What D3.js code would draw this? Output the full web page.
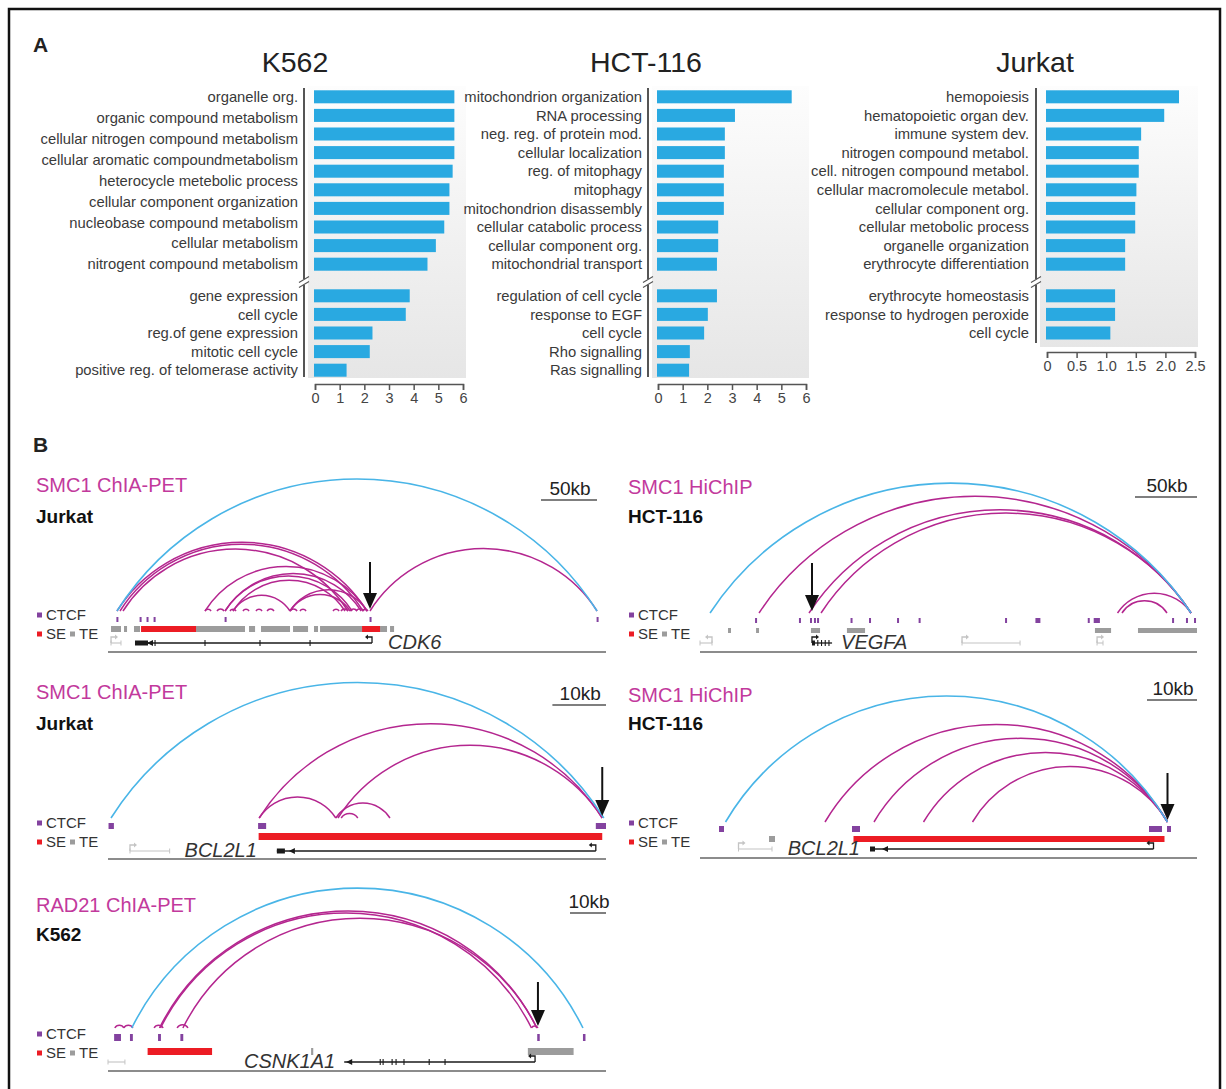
<!DOCTYPE html>
<html>
<head>
<meta charset="utf-8">
<script src="https://cdn.jsdelivr.net/npm/d3@7"></script>
<style>
  body { margin: 0; background: #fff; }
  svg { display: block; }
  text { font-family: "Liberation Sans", Arial, Helvetica, sans-serif; }
</style>
</head>
<body>
<svg id="fig" width="1226" height="1089"></svg>
<script>
// ================= Panel A: GO term enrichment, -log10(P) =================
const k562TermsTop = ["organelle org.", "organic compound metabolism", "cellular nitrogen compound metabolism",
  "cellular aromatic compoundmetabolism", "heterocycle metebolic process", "cellular component organization",
  "nucleobase compound metabolism", "cellular metabolism", "nitrogent compound metabolism"];
const k562ValuesTop = [5.65, 5.65, 5.65, 5.65, 5.58, 5.45, 5.45, 5.24, 4.9, 4.56];
const k562TermsBottom = ["gene expression", "cell cycle", "reg.of gene expression", "mitotic cell cycle",
  "positive reg. of telomerase activity"];
const k562ValuesBottom = [3.84, 3.68, 2.33, 2.22, 1.28];

const hctTermsTop = ["mitochondrion organization", "RNA processing", "neg. reg. of protein mod.",
  "cellular localization", "reg. of mitophagy", "mitophagy", "mitochondrion disassembly",
  "cellular catabolic process", "cellular component org.", "mitochondrial transport"];
const hctValuesTop = [5.42, 3.12, 2.71, 2.71, 2.67, 2.67, 2.67, 2.44, 2.44, 2.39];
const hctTermsBottom = ["regulation of cell cycle", "response to EGF", "cell cycle", "Rho signalling", "Ras signalling"];
const hctValuesBottom = [2.39, 2.02, 1.87, 1.29, 1.26];

const jurkatTermsTop = ["hemopoiesis", "hematopoietic organ dev.", "immune system dev.",
  "nitrogen compound metabol.", "cell. nitrogen compound metabol.", "cellular macromolecule metabol.",
  "cellular component org.", "cellular metobolic process", "organelle organization", "erythrocyte differentiation"];
const jurkatValuesTop = [2.23, 1.98, 1.59, 1.55, 1.55, 1.51, 1.49, 1.49, 1.32, 1.32];
const jurkatTermsBottom = ["erythrocyte homeostasis", "response to hydrogen peroxide", "cell cycle"];
const jurkatValuesBottom = [1.15, 1.15, 1.07];

const ticksSix = [0, 1, 2, 3, 4, 5, 6];
const tickLabelsSix = ["0", "1", "2", "3", "4", "5", "6"];
const ticksJurkat = [0, 0.5, 1, 1.5, 2, 2.5];
const tickLabelsJurkat = ["0", "0.5", "1.0", "1.5", "2.0", "2.5"];

// ================= Panel B: cohesin loops (positions in kb from window start) =================
// CDK6 - SMC1 ChIA-PET, Jurkat
const cdk6Window = 444.6;
const cdk6Ctcf = [[7.5, 8.5], [28.2, 29.0], [34.4, 35.2], [40.7, 41.5], [104.1, 104.9], [233.5, 234.3], [436.2, 437.0]];
const cdk6SE = [[29.5, 78.6], [226.8, 242.9]];
const cdk6TE = [[2.7, 11.6], [14.3, 17.0], [23.2, 28.6], [78.6, 122.3], [125.9, 131.3], [136.6, 162.5],
  [165.2, 178.6], [183.9, 187.5], [189.3, 226.8], [242.9, 249.1], [251.8, 255.4]];
const cdk6Neighborhood = [[8.0, 436.6]];
const cdk6Loops = [[8.0, 231.3], [10.7, 227.7], [13.4, 214.3], [86.6, 231.3], [104.5, 226.0], [104.5, 217.9],
  [111.6, 211.6], [111.6, 162.5], [162.5, 231.3], [162.5, 216.1], [233.9, 436.6],
  [86.6, 92.0], [97.3, 103.6], [108.9, 114.3], [120.5, 125.9], [132.1, 137.5], [142.0, 148.2],
  [162.5, 168.8], [171.4, 176.8], [200.9, 206.3], [208.0, 214.3], [216.1, 222.3], [221.4, 228.6], [226.8, 232.1]];
const cdk6Genes = [
  { start: 24.1, end: 235.7, tss: "end", blocks: [[24.1, 35.7]], exons: [42.0, 86.6, 135.7, 180.4], main: true },
  { start: 2.7, end: 11.6, tss: "start", blocks: [], exons: [], main: false }
];
const cdk6Anchor = 233.9;

// VEGFA - SMC1 HiChIP, HCT-116
const vegfaWindow = 400.8;
const vegfaCtcf = [[44.4, 46.0], [79.8, 81.4], [88.7, 90.3], [91.9, 93.5], [94.4, 96.0], [121.4, 123.0],
  [136.3, 137.9], [158.9, 160.5], [176.3, 177.9], [246.0, 247.6], [270.5, 274.5], [312.7, 314.3],
  [317.5, 322.5], [380.7, 382.3], [391.9, 393.5], [398.4, 400.0]];
const vegfaSE = [];
const vegfaTE = [[22.6, 25.0], [45.2, 47.6], [89.5, 96.8], [118.5, 133.1], [318.5, 331.5], [353.2, 400.8]];
const vegfaNeighborhood = [[8.1, 396.0]];
const vegfaLoops = [[47.6, 396.0], [87.9, 396.0], [97.6, 396.0], [336.7, 396.0], [340.3, 376.6]];
const vegfaGenes = [
  { start: 90.3, end: 106.5, tss: "start", blocks: [[90.3, 91.5]], exons: [95, 98, 101, 104], main: true },
  { start: 0, end: 9.7, tss: "end", blocks: [], exons: [], main: false },
  { start: 211.3, end: 258.1, tss: "start", blocks: [], exons: [], main: false },
  { start: 320.2, end: 325.0, tss: "start", blocks: [], exons: [], main: false }
];
const vegfaAnchor = 90.3;

// BCL2L1 - SMC1 ChIA-PET, Jurkat
const bclJurkatWindow = 92.9;
const bclJurkatCtcf = [[0.1, 1.1], [28.0, 29.5], [91.0, 92.9]];
const bclJurkatSE = [[28.1, 92.2]];
const bclJurkatTE = [];
const bclJurkatNeighborhood = [[0.56, 92.5]];
const bclJurkatLoops = [[28.2, 92.2], [42.9, 92.2], [28.2, 42.5], [42.5, 52.6], [43.5, 46.6]];
const bclJurkatGenes = [
  { start: 31.5, end: 91.0, tss: "end", blocks: [[31.5, 33.0]], exons: [], main: true },
  { start: 4.1, end: 11.5, tss: "start", blocks: [], exons: [], main: false }
];
const bclJurkatAnchor = 92.2;

// BCL2L1 - SMC1 HiChIP, HCT-116
const bclHctWindow = 99.4;
const bclHctCtcf = [[3.8, 4.8], [30.4, 32.0], [89.8, 92.4], [93.4, 94.2]];
const bclHctSE = [[30.7, 92.9]];
const bclHctTE = [[13.8, 15.0]];
const bclHctNeighborhood = [[5.1, 93.5]];
const bclHctLoops = [[25.0, 93.5], [34.8, 93.5], [44.7, 93.5], [54.5, 93.5]];
const bclHctGenes = [
  { start: 34.0, end: 90.7, tss: "end", blocks: [[34.0, 35.0]], exons: [], main: true },
  { start: 7.7, end: 14.4, tss: "start", blocks: [], exons: [], main: false }
];
const bclHctAnchor = 93.5;

// CSNK1A1 - RAD21 ChIA-PET, K562
const csnkWindow = 138.3;
const csnkCtcf = [[1.7, 3.6], [6.1, 6.9], [13.9, 14.7], [20.1, 20.9], [119.2, 119.9], [131.9, 132.6]];
const csnkSE = [[11.0, 28.9]];
const csnkTE = [[56.4, 57.0], [116.6, 129.3]];
const csnkNeighborhood = [[6.6, 131.9]];
const csnkLoops = [[14.3, 119.1], [14.6, 117.6], [20.8, 119.1],
  [1.9, 4.4], [4.4, 6.9], [12.8, 15.3], [19.2, 22.2], [117.6, 119.4]];
const csnkGenes = [
  { start: 65.6, end: 118.6, tss: "end", blocks: [], exons: [75.6, 76.4, 78.9, 80.0, 82.2, 89.2, 93.6], main: true },
  { start: 0, end: 4.7, tss: "none", blocks: [], exons: [], main: false }
];
const csnkAnchor = 119.4;

// ================= Drawing =================
const svg = d3.select("#fig");
const BAR = "#29a9e1";
const MAGENTA = "#b4268f";
const BLUE = "#49b5e7";
const PURPLE = "#83429f";
const RED = "#ec1c24";
const GREY = "#9c9c9c";

// figure frame
svg.append("rect").attr("x", 9).attr("y", 9).attr("width", 1211).attr("height", 1100)
  .attr("fill", "none").attr("stroke", "#111").attr("stroke-width", 2.5);

svg.append("text").text("A").attr("x", 33).attr("y", 52)
  .attr("font-size", 21).attr("font-weight", "bold").attr("fill", "#222");
svg.append("text").text("B").attr("x", 33).attr("y", 452)
  .attr("font-size", 21).attr("font-weight", "bold").attr("fill", "#222");

const defs = svg.append("defs");
const grad = defs.append("linearGradient").attr("id", "plotBg")
  .attr("x1", 0).attr("y1", 0).attr("x2", 0).attr("y2", 1);
grad.append("stop").attr("offset", "0%").attr("stop-color", "#fdfdfd");
grad.append("stop").attr("offset", "100%").attr("stop-color", "#e6e6e6");

const goCharts = [
  { title: "K562", termsTop: k562TermsTop, valuesTop: k562ValuesTop, termsBottom: k562TermsBottom,
    valuesBottom: k562ValuesBottom, ticks: ticksSix, tickLabels: tickLabelsSix, xMax: 6 },
  { title: "HCT-116", termsTop: hctTermsTop, valuesTop: hctValuesTop, termsBottom: hctTermsBottom,
    valuesBottom: hctValuesBottom, ticks: ticksSix, tickLabels: tickLabelsSix, xMax: 6 },
  { title: "Jurkat", termsTop: jurkatTermsTop, valuesTop: jurkatValuesTop, termsBottom: jurkatTermsBottom,
    valuesBottom: jurkatValuesBottom, ticks: ticksJurkat, tickLabels: tickLabelsJurkat, xMax: 2.5 }
];
const goLayout = [
  { axisX: 304, zeroX: 315, endX: 463, labelX: 298, titleX: 295, bgBottom: 378, axisBottom: 377, xAxisY: 384 },
  { axisX: 648, zeroX: 658, endX: 806, labelX: 642, titleX: 646, bgBottom: 378, axisBottom: 377, xAxisY: 384 },
  { axisX: 1036, zeroX: 1047, endX: 1195, labelX: 1029, titleX: 1035, bgBottom: 347, axisBottom: 343, xAxisY: 352 }
];
const STEP = 18.6, TOP0 = 87.5, BOT0 = 286.5;

goCharts.forEach((c, i) => {
  const L = goLayout[i];
  const g = svg.append("g");
  const x = d3.scaleLinear().domain([0, c.xMax]).range([L.zeroX, L.endX]);
  const yTop = d3.scaleBand().domain(d3.range(c.valuesTop.length))
    .range([TOP0, TOP0 + STEP * c.valuesTop.length]).paddingInner(0.3).paddingOuter(0.15);
  const yBot = d3.scaleBand().domain(d3.range(c.valuesBottom.length))
    .range([BOT0, BOT0 + STEP * c.valuesBottom.length]).paddingInner(0.3).paddingOuter(0.15);

  // shaded plotting area
  g.append("rect").attr("x", L.axisX + 4).attr("y", 86)
    .attr("width", L.endX + 3 - (L.axisX + 4)).attr("height", L.bgBottom - 86)
    .attr("fill", "url(#plotBg)");

  g.append("text").text(c.title).attr("x", L.titleX).attr("y", 72)
    .attr("text-anchor", "middle").attr("font-size", 28.5).attr("fill", "#222");

  // bars
  g.selectAll(".bt").data(c.valuesTop).join("rect")
    .attr("x", x(0) - 1).attr("y", (d, j) => yTop(j))
    .attr("width", d => x(d) - x(0) + 1).attr("height", yTop.bandwidth()).attr("fill", BAR);
  g.selectAll(".bb").data(c.valuesBottom).join("rect")
    .attr("x", x(0) - 1).attr("y", (d, j) => yBot(j))
    .attr("width", d => x(d) - x(0) + 1).attr("height", yBot.bandwidth()).attr("fill", BAR);

  // category labels
  const firstC = yTop(0) + yTop.bandwidth() / 2;
  const lastC = yTop(c.valuesTop.length - 1) + yTop.bandwidth() / 2;
  const labTop = d3.scalePoint().domain(c.termsTop).range([firstC, lastC]);
  g.selectAll(".lt").data(c.termsTop).join("text")
    .attr("x", L.labelX).attr("y", d => labTop(d)).attr("dy", "0.35em")
    .attr("text-anchor", "end").attr("font-size", 14.8).attr("fill", "#3a3a3a").text(d => d);
  g.selectAll(".lb").data(c.termsBottom).join("text")
    .attr("x", L.labelX).attr("y", (d, j) => yBot(j) + yBot.bandwidth() / 2).attr("dy", "0.35em")
    .attr("text-anchor", "end").attr("font-size", 14.8).attr("fill", "#3a3a3a").text(d => d);

  // vertical axis with a break between the two groups of terms
  const breakY = (lastC + yBot(0) + yBot.bandwidth() / 2) / 2 + 2;
  g.append("line").attr("x1", L.axisX).attr("x2", L.axisX).attr("y1", 88).attr("y2", breakY - 3)
    .attr("stroke", "#555").attr("stroke-width", 2);
  g.append("line").attr("x1", L.axisX).attr("x2", L.axisX).attr("y1", breakY + 3).attr("y2", L.axisBottom)
    .attr("stroke", "#555").attr("stroke-width", 2);
  [-2.5, 2.5].forEach(o => g.append("line")
    .attr("x1", L.axisX - 5).attr("y1", breakY + o + 3).attr("x2", L.axisX + 5).attr("y2", breakY + o - 3)
    .attr("stroke", "#555").attr("stroke-width", 1.1));

  // value axis
  const ax = g.append("g").attr("transform", `translate(0,${L.xAxisY})`)
    .call(d3.axisBottom(x).tickValues(c.ticks).tickFormat((d, j) => c.tickLabels[j]).tickSize(6).tickSizeOuter(6));
  ax.selectAll("path, line").attr("stroke", "#555").attr("stroke-width", 1.5);
  ax.selectAll("text").attr("font-size", 14.5).attr("fill", "#444")
    .attr("font-family", '"Liberation Sans", Arial, sans-serif');
});

// ----- Panel B tracks -----
const tracks = [
  { assay: "SMC1 ChIA-PET", cell: "Jurkat", gene: "CDK6", scaleKb: 50, window: cdk6Window, ctcf: cdk6Ctcf,
    se: cdk6SE, te: cdk6TE, neighborhood: cdk6Neighborhood, loops: cdk6Loops, genes: cdk6Genes, anchor: cdk6Anchor },
  { assay: "SMC1 HiChIP", cell: "HCT-116", gene: "VEGFA", scaleKb: 50, window: vegfaWindow, ctcf: vegfaCtcf,
    se: vegfaSE, te: vegfaTE, neighborhood: vegfaNeighborhood, loops: vegfaLoops, genes: vegfaGenes, anchor: vegfaAnchor },
  { assay: "SMC1 ChIA-PET", cell: "Jurkat", gene: "BCL2L1", scaleKb: 10, window: bclJurkatWindow, ctcf: bclJurkatCtcf,
    se: bclJurkatSE, te: bclJurkatTE, neighborhood: bclJurkatNeighborhood, loops: bclJurkatLoops, genes: bclJurkatGenes, anchor: bclJurkatAnchor },
  { assay: "SMC1 HiChIP", cell: "HCT-116", gene: "BCL2L1", scaleKb: 10, window: bclHctWindow, ctcf: bclHctCtcf,
    se: bclHctSE, te: bclHctTE, neighborhood: bclHctNeighborhood, loops: bclHctLoops, genes: bclHctGenes, anchor: bclHctAnchor },
  { assay: "RAD21 ChIA-PET", cell: "K562", gene: "CSNK1A1", scaleKb: 10, window: csnkWindow, ctcf: csnkCtcf,
    se: csnkSE, te: csnkTE, neighborhood: csnkNeighborhood, loops: csnkLoops, genes: csnkGenes, anchor: csnkAnchor }
];
const trackLayout = [
  { x0: 108, x1: 606, labelX: 36, assayY: 492, cellY: 523, scaleRight: 597, scaleY: 500, arcY: 611, ctcfY: 617, ctcfH: 5,
    bandY: 626, bandH: 6, geneY: 643, axisY: 652, arrowTop: 562, legendY: 615, ratio: 0.275, geneLabel: "right", geneGap: 16 },
  { x0: 700, x1: 1197, labelX: 628, assayY: 494, cellY: 523, scaleRight: 1197, scaleY: 497, arcY: 613, ctcfY: 618, ctcfH: 5,
    bandY: 628, bandH: 5, geneY: 643, axisY: 652, arrowTop: 563, legendY: 615, ratio: 0.27, geneLabel: "right", geneGap: 9 },
  { x0: 108, x1: 606, labelX: 36, assayY: 699, cellY: 730, scaleRight: 606, scaleY: 705, arcY: 818, ctcfY: 823, ctcfH: 6,
    bandY: 833, bandH: 7, geneY: 851, axisY: 859, arrowTop: 767, legendY: 823, ratio: 0.275, geneLabel: "left", geneGap: 20 },
  { x0: 700, x1: 1197, labelX: 628, assayY: 702, cellY: 730, scaleRight: 1197, scaleY: 700, arcY: 822, ctcfY: 826, ctcfH: 6,
    bandY: 836, bandH: 6, geneY: 849, axisY: 858, arrowTop: 773, legendY: 823, ratio: 0.285, geneLabel: "left", geneGap: 10 },
  { x0: 108, x1: 606, labelX: 36, assayY: 912, cellY: 941, scaleRight: 606, scaleY: 913, arcY: 1028, ctcfY: 1034, ctcfH: 7,
    bandY: 1048, bandH: 7, geneY: 1062, axisY: 1071, arrowTop: 982, legendY: 1034, ratio: 0.31, geneLabel: "left", geneGap: 9 }
];

function arcPath(x, a, b, base, ratio) {
  const x1 = x(a), x2 = x(b);
  const s = x2 - x1, h = Math.max(1.2, ratio * s);
  const r = (s * s / 4 + h * h) / (2 * h);
  return `M${x1},${base} A${r},${r} 0 0 1 ${x2},${base}`;
}

function drawGene(g, x, gene, y) {
  const col = gene.main ? "#1a1a1a" : "#c4c4c4";
  const xs = x(gene.start), xe = x(gene.end);
  g.append("line").attr("x1", xs).attr("x2", xe).attr("y1", y).attr("y2", y)
    .attr("stroke", col).attr("stroke-width", gene.main ? 1.3 : 1.1);
  gene.blocks.forEach(b => g.append("rect").attr("x", x(b[0])).attr("y", y - 2.5)
    .attr("width", Math.max(3, x(b[1]) - x(b[0]))).attr("height", 5).attr("fill", col));
  gene.exons.forEach(e => g.append("line").attr("x1", x(e)).attr("x2", x(e))
    .attr("y1", y - 3).attr("y2", y + 3).attr("stroke", col).attr("stroke-width", 1.1));
  if (!gene.main) {
    [xs, xe].forEach(p => g.append("line").attr("x1", p).attr("x2", p).attr("y1", y - 2.5).attr("y2", y + 2.5)
      .attr("stroke", col).attr("stroke-width", 1));
  }
  if (gene.tss === "none") return;
  // transcription start: bent arrow
  const tx = gene.tss === "end" ? xe : xs;
  const dir = gene.tss === "end" ? -1 : 1;
  g.append("path").attr("d", `M${tx},${y} V${y - 6} H${tx + dir * 5}`)
    .attr("fill", "none").attr("stroke", col).attr("stroke-width", 1.3);
  g.append("path").attr("d", `M${tx + dir * 7},${y - 6} L${tx + dir * 4},${y - 8.5} L${tx + dir * 4},${y - 3.5} Z`)
    .attr("fill", col);
  // strand chevron at the far end of the gene body
  if (gene.main && gene.tss === "end") {
    const cx = xs + (gene.blocks.length ? 12 : 2);
    g.append("path").attr("d", `M${cx},${y} L${cx + 6},${y - 3} L${cx + 6},${y + 3} Z`).attr("fill", col);
  }
}

tracks.forEach((t, i) => {
  const L = trackLayout[i];
  const x = d3.scaleLinear().domain([0, t.window]).range([L.x0, L.x1]);
  const g = svg.append("g");

  g.append("text").text(t.assay).attr("x", L.labelX).attr("y", L.assayY)
    .attr("font-size", 20).attr("fill", "#c2399c");
  g.append("text").text(t.cell).attr("x", L.labelX).attr("y", L.cellY)
    .attr("font-size", 19).attr("font-weight", "bold").attr("fill", "#111");

  // scale bar
  const sbW = x(t.scaleKb) - x(0);
  g.append("line").attr("x1", L.scaleRight - sbW).attr("x2", L.scaleRight)
    .attr("y1", L.scaleY).attr("y2", L.scaleY).attr("stroke", "#555").attr("stroke-width", 1.5);
  g.append("text").text(t.scaleKb + "kb").attr("x", L.scaleRight - sbW / 2 + 1).attr("y", L.scaleY - 5)
    .attr("text-anchor", "middle").attr("font-size", 19).attr("fill", "#222");

  // legend
  g.append("rect").attr("x", L.labelX + 1).attr("y", L.legendY - 2.5).attr("width", 5).attr("height", 5).attr("fill", PURPLE);
  g.append("text").text("CTCF").attr("x", L.labelX + 10).attr("y", L.legendY).attr("dy", "0.35em")
    .attr("font-size", 15).attr("fill", "#333");
  const ly = L.legendY + 19;
  g.append("rect").attr("x", L.labelX + 1).attr("y", ly - 2.5).attr("width", 5).attr("height", 5).attr("fill", RED);
  g.append("text").text("SE").attr("x", L.labelX + 10).attr("y", ly).attr("dy", "0.35em")
    .attr("font-size", 15).attr("fill", "#333");
  g.append("rect").attr("x", L.labelX + 34).attr("y", ly - 2.5).attr("width", 5).attr("height", 5).attr("fill", GREY);
  g.append("text").text("TE").attr("x", L.labelX + 43).attr("y", ly).attr("dy", "0.35em")
    .attr("font-size", 15).attr("fill", "#333");

  // genome axis
  g.append("line").attr("x1", L.x0).attr("x2", L.x1).attr("y1", L.axisY).attr("y2", L.axisY)
    .attr("stroke", "#666").attr("stroke-width", 1.6);

  // CTCF sites
  g.selectAll(".ctcf").data(t.ctcf).join("rect")
    .attr("x", d => x(d[0])).attr("y", L.ctcfY)
    .attr("width", d => Math.max(2, x(d[1]) - x(d[0]))).attr("height", L.ctcfH).attr("fill", PURPLE);

  // enhancers
  g.selectAll(".te").data(t.te).join("rect")
    .attr("x", d => x(d[0])).attr("y", L.bandY)
    .attr("width", d => Math.max(2, x(d[1]) - x(d[0]))).attr("height", L.bandH).attr("fill", GREY);
  g.selectAll(".se").data(t.se).join("rect")
    .attr("x", d => x(d[0])).attr("y", L.bandY)
    .attr("width", d => x(d[1]) - x(d[0])).attr("height", L.bandH).attr("fill", RED);

  // genes
  t.genes.forEach(gn => drawGene(g, x, gn, L.geneY));
  const main = t.genes.find(gn => gn.main);
  const lab = g.append("text").text(t.gene).attr("font-size", 20).attr("font-style", "italic")
    .attr("fill", "#333").attr("y", L.geneY + 6);
  if (L.geneLabel === "right") lab.attr("x", x(main.end) + L.geneGap);
  else lab.attr("x", x(main.start) - L.geneGap).attr("text-anchor", "end");

  // loops
  g.selectAll(".loop").data(t.loops).join("path")
    .attr("d", d => arcPath(x, d[0], d[1], L.arcY, L.ratio))
    .attr("fill", "none").attr("stroke", MAGENTA).attr("stroke-width", 1.5);
  g.selectAll(".nb").data(t.neighborhood).join("path")
    .attr("d", d => arcPath(x, d[0], d[1], L.arcY, L.ratio))
    .attr("fill", "none").attr("stroke", BLUE).attr("stroke-width", 1.6);

  // anchor arrow
  const axp = x(t.anchor);
  g.append("line").attr("x1", axp).attr("x2", axp).attr("y1", L.arrowTop).attr("y2", L.arcY - 16)
    .attr("stroke", "#111").attr("stroke-width", 2);
  g.append("path").attr("d", `M${axp - 7},${L.arcY - 18} L${axp + 7},${L.arcY - 18} L${axp},${L.arcY - 2} Z`)
    .attr("fill", "#111");
});
</script>
</body>
</html>
